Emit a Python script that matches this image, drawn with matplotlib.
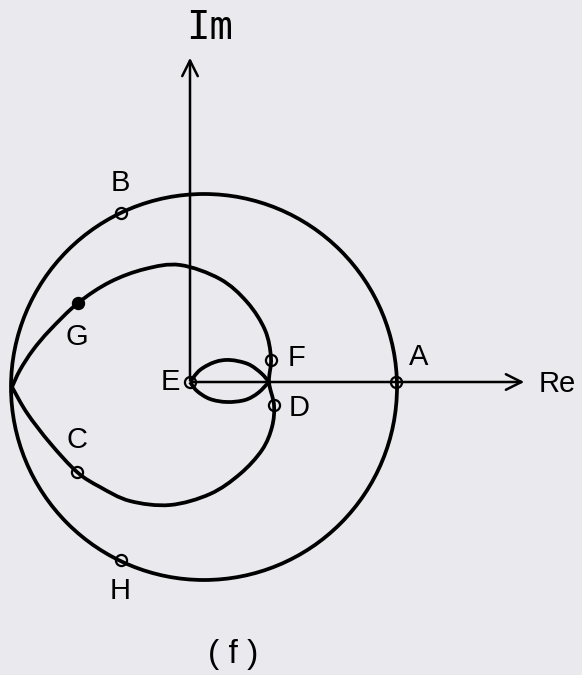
import numpy as np
import matplotlib
matplotlib.use("Agg")
import matplotlib.pyplot as plt
from matplotlib.path import Path
from matplotlib.patches import PathPatch, Circle

# outer locus (circle through A, B, H)
outer_center = (14, -5)
outer_radius = 193

# inner locus, traced from the cusp on the left, over the top, through F and D, back to the cusp
inner_x = [-178, -170, -157, -140, -112, -80, -45, -10, 30, 57, 75, 81, 79,
           84, 82, 72, 50, 20, -20, -60, -90, -113, -140, -163, -178]
inner_y = [-5, 12, 32, 52, 79, 100, 113, 117, 103, 80, 52, 24, 0,
           -23, -45, -68, -92, -112, -123, -119, -105, -90, -61, -31, -5]

# small loop around E
lens_top_x = [0, 10, 25, 40, 58, 71, 79]
lens_top_y = [0, 12, 20, 22, 18, 9, 0]
lens_bot_x = [0, 7, 20, 37, 55, 68, 79]
lens_bot_y = [0, -9, -17, -20, -18, -11, 0]

# marked points
pt_names = ["A", "B", "C", "D", "E", "F", "G", "H"]
pt_x = [206, -69, -113, 84, 0, 81, -112, -69]
pt_y = [0, 169, -90, -23, 0, 22, 79, -178]
label_x = [229, -70, -113, 109, -20, 107, -113, -70]
label_y = [25, 199, -58, -26, 0, 24, 45, -209]


def smooth_path(xs, ys):
    pts = np.column_stack([xs, ys]).astype(float)
    p = np.vstack([pts[0], pts, pts[-1]])
    verts = [pts[0]]
    codes = [Path.MOVETO]
    for i in range(1, len(p) - 2):
        c1 = p[i] + (p[i + 1] - p[i - 1]) / 6
        c2 = p[i + 1] - (p[i + 2] - p[i]) / 6
        verts += [c1, c2, p[i + 1]]
        codes += [Path.CURVE4] * 3
    return Path(verts, codes)


bg = "#e9e9ee"
fig = plt.figure(figsize=(5.82, 6.75), dpi=100, facecolor=bg)
ax = fig.add_axes([0, 0, 1, 1])
ax.set_facecolor(bg)
ax.set_xlim(-190, 392)
ax.set_ylim(-293, 382)
ax.set_aspect("equal")
ax.axis("off")

lw = 2.7
ax.add_patch(Circle(outer_center, outer_radius, fill=False, lw=lw, color="black"))
ax.add_patch(PathPatch(smooth_path(inner_x, inner_y), fill=False, lw=lw, color="black"))
ax.add_patch(PathPatch(smooth_path(lens_top_x, lens_top_y), fill=False, lw=lw, color="black"))
ax.add_patch(PathPatch(smooth_path(lens_bot_x, lens_bot_y), fill=False, lw=lw, color="black"))

# axes with arrows
ax.annotate("", xy=(0, 327), xytext=(0, 0),
            arrowprops=dict(arrowstyle="->", lw=1.8, color="black", mutation_scale=28))
ax.annotate("", xy=(337, 0), xytext=(0, 0),
            arrowprops=dict(arrowstyle="->", lw=1.8, color="black", mutation_scale=28))
ax.text(19, 354, "Im", fontsize=28, family="DejaVu Sans Mono", ha="center", va="center")
ax.text(367, -2, "Re", fontsize=21, family="Liberation Sans", ha="center", va="center")

for name, x, y, lx, ly in zip(pt_names, pt_x, pt_y, label_x, label_y):
    face = "black" if name == "G" else "none"
    ax.plot(x, y, "o", ms=8, mfc=face, mec="black", mew=1.6)
    ax.text(lx, ly, name, fontsize=21, family="Liberation Sans", ha="center", va="center")

ax.text(43, -273, "( f )", fontsize=24, family="Liberation Sans", ha="center", va="center")

fig.savefig("out.png", dpi=100, facecolor=bg)
